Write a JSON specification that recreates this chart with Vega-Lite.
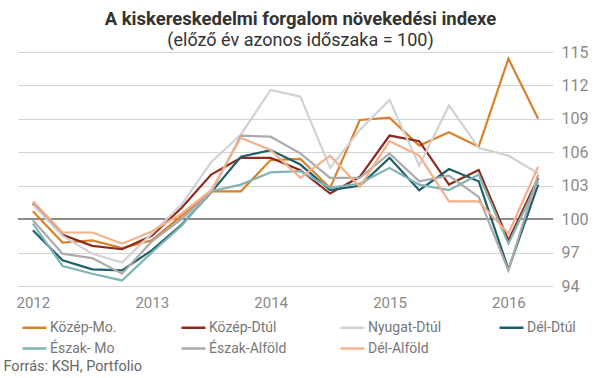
{
  "$schema": "https://vega.github.io/schema/vega-lite/v6.json",
  "width": 535,
  "height": 234,
  "autosize": {"type": "none"},
  "padding": {"left": 18, "top": 52, "right": 52, "bottom": 92},
  "background": "white",
  "title": {
    "text": "A kiskereskedelmi forgalom növekedési indexe",
    "subtitle": "(előző év azonos időszaka = 100)",
    "anchor": "middle",
    "dx": 15,
    "font": "Roboto",
    "fontSize": 18.5,
    "fontWeight": "bold",
    "color": "#333333",
    "subtitleFont": "Roboto",
    "subtitleFontSize": 18,
    "subtitleColor": "#333333",
    "subtitlePadding": 4,
    "offset": -6
  },
  "datasets": {
    "d": [
      {"q":"2012-1","r":"Közép-Mo.","v":100.7},{"q":"2012-2","r":"Közép-Mo.","v":97.9},{"q":"2012-3","r":"Közép-Mo.","v":98.1},{"q":"2012-4","r":"Közép-Mo.","v":97.4},
      {"q":"2013-1","r":"Közép-Mo.","v":98.1},{"q":"2013-2","r":"Közép-Mo.","v":100.3},{"q":"2013-3","r":"Közép-Mo.","v":102.5},{"q":"2013-4","r":"Közép-Mo.","v":102.5},
      {"q":"2014-1","r":"Közép-Mo.","v":105.3},{"q":"2014-2","r":"Közép-Mo.","v":105.4},{"q":"2014-3","r":"Közép-Mo.","v":102.8},{"q":"2014-4","r":"Közép-Mo.","v":108.9},
      {"q":"2015-1","r":"Közép-Mo.","v":109.1},{"q":"2015-2","r":"Közép-Mo.","v":106.6},{"q":"2015-3","r":"Közép-Mo.","v":107.8},{"q":"2015-4","r":"Közép-Mo.","v":106.5},
      {"q":"2016-1","r":"Közép-Mo.","v":114.4},{"q":"2016-2","r":"Közép-Mo.","v":109.0},

      {"q":"2012-1","r":"Közép-Dtúl","v":101.4},{"q":"2012-2","r":"Közép-Dtúl","v":98.6},{"q":"2012-3","r":"Közép-Dtúl","v":97.6},{"q":"2012-4","r":"Közép-Dtúl","v":97.3},
      {"q":"2013-1","r":"Közép-Dtúl","v":98.5},{"q":"2013-2","r":"Közép-Dtúl","v":101.0},{"q":"2013-3","r":"Közép-Dtúl","v":104.0},{"q":"2013-4","r":"Közép-Dtúl","v":105.5},
      {"q":"2014-1","r":"Közép-Dtúl","v":105.5},{"q":"2014-2","r":"Közép-Dtúl","v":104.4},{"q":"2014-3","r":"Közép-Dtúl","v":102.3},{"q":"2014-4","r":"Közép-Dtúl","v":103.8},
      {"q":"2015-1","r":"Közép-Dtúl","v":107.5},{"q":"2015-2","r":"Közép-Dtúl","v":107.0},{"q":"2015-3","r":"Közép-Dtúl","v":103.1},{"q":"2015-4","r":"Közép-Dtúl","v":104.4},
      {"q":"2016-1","r":"Közép-Dtúl","v":98.1},{"q":"2016-2","r":"Közép-Dtúl","v":103.7},

      {"q":"2012-1","r":"Nyugat-Dtúl","v":101.3},{"q":"2012-2","r":"Nyugat-Dtúl","v":98.5},{"q":"2012-3","r":"Nyugat-Dtúl","v":96.9},{"q":"2012-4","r":"Nyugat-Dtúl","v":96.1},
      {"q":"2013-1","r":"Nyugat-Dtúl","v":98.7},{"q":"2013-2","r":"Nyugat-Dtúl","v":101.3},{"q":"2013-3","r":"Nyugat-Dtúl","v":105.1},{"q":"2013-4","r":"Nyugat-Dtúl","v":107.6},
      {"q":"2014-1","r":"Nyugat-Dtúl","v":111.6},{"q":"2014-2","r":"Nyugat-Dtúl","v":111.0},{"q":"2014-3","r":"Nyugat-Dtúl","v":104.6},{"q":"2014-4","r":"Nyugat-Dtúl","v":108.0},
      {"q":"2015-1","r":"Nyugat-Dtúl","v":110.7},{"q":"2015-2","r":"Nyugat-Dtúl","v":104.8},{"q":"2015-3","r":"Nyugat-Dtúl","v":110.2},{"q":"2015-4","r":"Nyugat-Dtúl","v":106.4},
      {"q":"2016-1","r":"Nyugat-Dtúl","v":105.7},{"q":"2016-2","r":"Nyugat-Dtúl","v":104.1},

      {"q":"2012-1","r":"Dél-Dtúl","v":99.0},{"q":"2012-2","r":"Dél-Dtúl","v":96.3},{"q":"2012-3","r":"Dél-Dtúl","v":95.5},{"q":"2012-4","r":"Dél-Dtúl","v":95.4},
      {"q":"2013-1","r":"Dél-Dtúl","v":97.2},{"q":"2013-2","r":"Dél-Dtúl","v":99.5},{"q":"2013-3","r":"Dél-Dtúl","v":102.4},{"q":"2013-4","r":"Dél-Dtúl","v":105.6},
      {"q":"2014-1","r":"Dél-Dtúl","v":106.2},{"q":"2014-2","r":"Dél-Dtúl","v":104.9},{"q":"2014-3","r":"Dél-Dtúl","v":102.6},{"q":"2014-4","r":"Dél-Dtúl","v":103.0},
      {"q":"2015-1","r":"Dél-Dtúl","v":105.5},{"q":"2015-2","r":"Dél-Dtúl","v":102.6},{"q":"2015-3","r":"Dél-Dtúl","v":104.5},{"q":"2015-4","r":"Dél-Dtúl","v":103.4},
      {"q":"2016-1","r":"Dél-Dtúl","v":95.5},{"q":"2016-2","r":"Dél-Dtúl","v":103.1},

      {"q":"2012-1","r":"Észak- Mo","v":99.6},{"q":"2012-2","r":"Észak- Mo","v":95.8},{"q":"2012-3","r":"Észak- Mo","v":95.1},{"q":"2012-4","r":"Észak- Mo","v":94.5},
      {"q":"2013-1","r":"Észak- Mo","v":97.0},{"q":"2013-2","r":"Észak- Mo","v":99.4},{"q":"2013-3","r":"Észak- Mo","v":102.5},{"q":"2013-4","r":"Észak- Mo","v":103.1},
      {"q":"2014-1","r":"Észak- Mo","v":104.2},{"q":"2014-2","r":"Észak- Mo","v":104.3},{"q":"2014-3","r":"Észak- Mo","v":102.8},{"q":"2014-4","r":"Észak- Mo","v":103.2},
      {"q":"2015-1","r":"Észak- Mo","v":104.6},{"q":"2015-2","r":"Észak- Mo","v":103.1},{"q":"2015-3","r":"Észak- Mo","v":102.6},{"q":"2015-4","r":"Észak- Mo","v":104.0},
      {"q":"2016-1","r":"Észak- Mo","v":97.8},{"q":"2016-2","r":"Észak- Mo","v":103.4},

      {"q":"2012-1","r":"Észak-Alföld","v":99.9},{"q":"2012-2","r":"Észak-Alföld","v":96.9},{"q":"2012-3","r":"Észak-Alföld","v":96.5},{"q":"2012-4","r":"Észak-Alföld","v":95.1},
      {"q":"2013-1","r":"Észak-Alföld","v":98.0},{"q":"2013-2","r":"Észak-Alföld","v":100.0},{"q":"2013-3","r":"Észak-Alföld","v":102.4},{"q":"2013-4","r":"Észak-Alföld","v":107.5},
      {"q":"2014-1","r":"Észak-Alföld","v":107.4},{"q":"2014-2","r":"Észak-Alföld","v":105.9},{"q":"2014-3","r":"Észak-Alföld","v":103.7},{"q":"2014-4","r":"Észak-Alföld","v":103.7},
      {"q":"2015-1","r":"Észak-Alföld","v":105.9},{"q":"2015-2","r":"Észak-Alföld","v":103.4},{"q":"2015-3","r":"Észak-Alföld","v":103.9},{"q":"2015-4","r":"Észak-Alföld","v":102.0},
      {"q":"2016-1","r":"Észak-Alföld","v":95.4},{"q":"2016-2","r":"Észak-Alföld","v":104.0},

      {"q":"2012-1","r":"Dél-Alföld","v":101.6},{"q":"2012-2","r":"Dél-Alföld","v":98.8},{"q":"2012-3","r":"Dél-Alföld","v":98.8},{"q":"2012-4","r":"Dél-Alföld","v":97.8},
      {"q":"2013-1","r":"Dél-Alföld","v":98.9},{"q":"2013-2","r":"Dél-Alföld","v":100.5},{"q":"2013-3","r":"Dél-Alföld","v":102.6},{"q":"2013-4","r":"Dél-Alföld","v":107.3},
      {"q":"2014-1","r":"Dél-Alföld","v":106.2},{"q":"2014-2","r":"Dél-Alföld","v":103.7},{"q":"2014-3","r":"Dél-Alföld","v":105.7},{"q":"2014-4","r":"Dél-Alföld","v":102.9},
      {"q":"2015-1","r":"Dél-Alföld","v":107.0},{"q":"2015-2","r":"Dél-Alföld","v":105.7},{"q":"2015-3","r":"Dél-Alföld","v":101.6},{"q":"2015-4","r":"Dél-Alföld","v":101.6},
      {"q":"2016-1","r":"Dél-Alföld","v":98.7},{"q":"2016-2","r":"Dél-Alföld","v":104.7}
    ]
  },
  "data": {"name": "d"},
  "layer": [
    {
      "mark": {"type": "rule", "color": "#8c8c8c", "strokeWidth": 1.2},
      "encoding": {
        "y": {
          "datum": 100, "type": "quantitative",
          "scale": {"domain": [94, 115], "nice": false, "zero": false},
          "axis": {
            "orient": "right", "title": null, "values": [94, 97, 100, 103, 106, 109, 112, 115],
            "grid": true, "gridColor": "#d4d4d4", "gridWidth": 1.2, "ticks": false, "domain": false,
            "labelOverlap": false, "labelBound": false, "labelFlush": false,
            "labelFont": "Roboto", "labelFontSize": 16, "labelColor": "#8a8a8a", "labelPadding": 8
          }
        }
      }
    },
    {
      "mark": {"type": "line", "strokeWidth": 2.2},
      "encoding": {
        "x": {
          "field": "q", "type": "ordinal", "sort": null,
          "scale": {"type": "point", "padding": 0.5},
          "axis": {
            "title": "Forrás: KSH, Portfolio",
            "titleAnchor": "start", "titleAlign": "left", "titleBaseline": "middle",
            "titleX": -15, "titleY": 80,
            "titleFont": "Roboto", "titleFontSize": 14.5, "titleFontWeight": "normal", "titleColor": "#666666",
            "labelExpr": "indexof(datum.value, '-1') > 0 ? slice(datum.value, 0, 4) : ''",
            "labelAngle": 0, "ticks": false, "domain": false, "grid": false, "labelOverlap": false,
            "labelFont": "Roboto", "labelFontSize": 15, "labelColor": "#888888", "labelPadding": 9
          }
        },
        "y": {
          "field": "v", "type": "quantitative",
          "scale": {"domain": [94, 115], "nice": false, "zero": false},
          "axis": {
            "orient": "right", "title": null, "values": [94, 97, 100, 103, 106, 109, 112, 115],
            "grid": true, "gridColor": "#d4d4d4", "gridWidth": 1.2, "ticks": false, "domain": false,
            "labelOverlap": false, "labelBound": false, "labelFlush": false,
            "labelFont": "Roboto", "labelFontSize": 16, "labelColor": "#8a8a8a", "labelPadding": 8
          }
        },
        "color": {
          "field": "r", "type": "nominal", "sort": null,
          "scale": {
            "domain": ["Közép-Mo.", "Közép-Dtúl", "Nyugat-Dtúl", "Dél-Dtúl", "Észak- Mo", "Észak-Alföld", "Dél-Alföld"],
            "range": ["#D9822B", "#8E2A1B", "#D2D2D2", "#1E5F6A", "#7FB3B5", "#ABABAB", "#F5B08A"]
          },
          "legend": {
            "orient": "none", "legendX": 3, "legendY": 262, "direction": "horizontal", "columns": 4,
            "symbolType": "stroke", "symbolSize": 576, "symbolStrokeWidth": 2.5,
            "labelFont": "Roboto", "labelFontSize": 14, "labelColor": "#777777", "labelOffset": 2,
            "gridAlign": "all", "columnPadding": 48, "rowPadding": 0, "title": null
          }
        }
      }
    }
  ],
  "config": {"view": {"stroke": null}}
}
